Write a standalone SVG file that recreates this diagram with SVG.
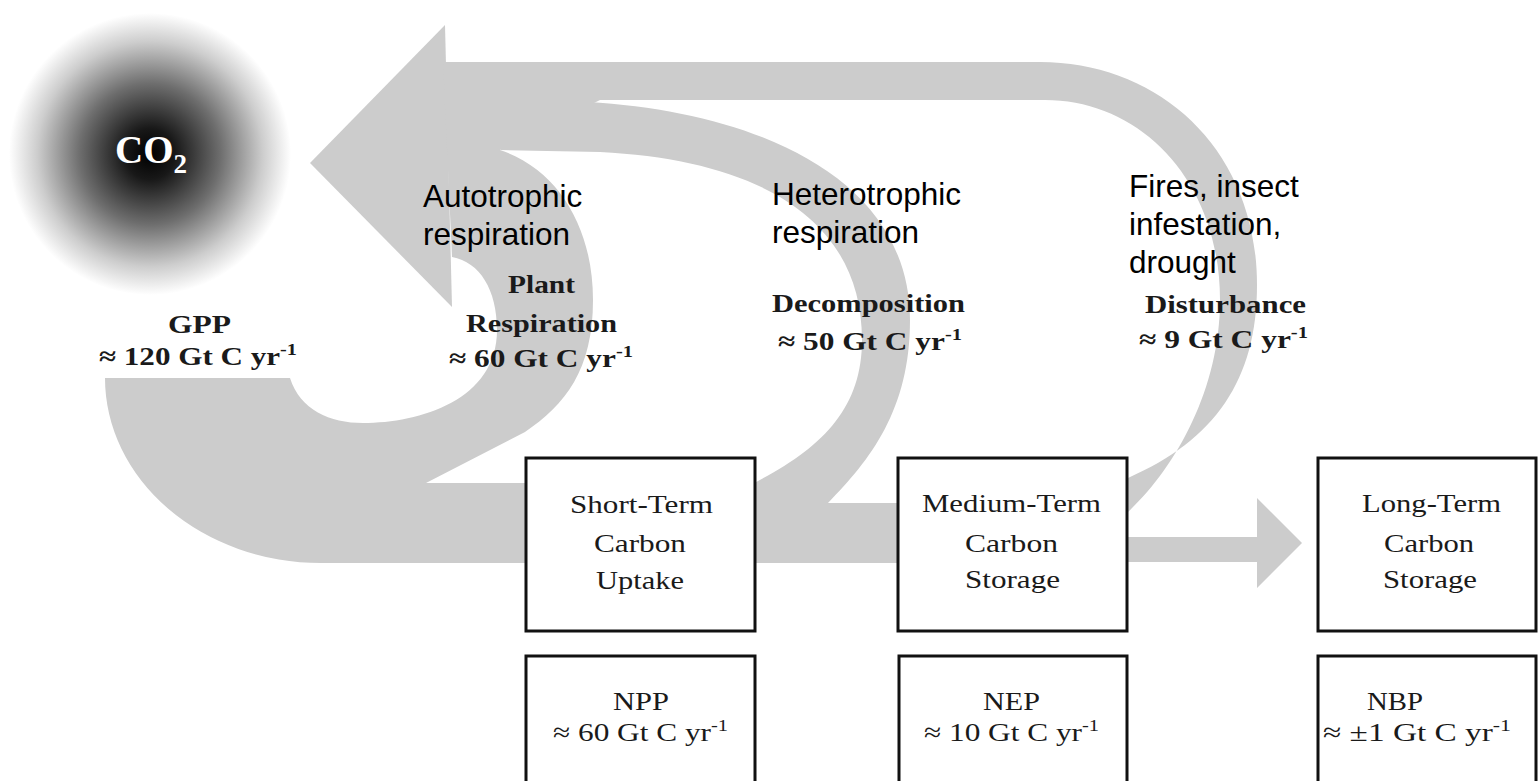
<svg xmlns="http://www.w3.org/2000/svg" width="1538" height="781" viewBox="0 0 1538 781">
<defs>
<radialGradient id="co2grad" cx="0.5" cy="0.5" r="0.5">
<stop offset="0" stop-color="#000000"/>
<stop offset="0.18" stop-color="#181818"/>
<stop offset="0.5" stop-color="#6e6e6e"/>
<stop offset="0.8" stop-color="#cdcdcd"/>
<stop offset="1" stop-color="#ffffff"/>
</radialGradient>
<style>
.flow{fill:#cccccc}
.box{fill:#ffffff;stroke:#111111;stroke-width:3}
.lbl{font-family:"Liberation Sans",Arial,sans-serif;font-size:31.5px;fill:#000000}
.bs{font-family:"Liberation Serif","Times New Roman",serif;font-weight:bold;font-size:26px;fill:#1a1a1a}
.rs{font-family:"Liberation Serif","Times New Roman",serif;font-size:26px;fill:#1a1a1a}
.co2{font-family:"Liberation Serif","Times New Roman",serif;font-weight:bold;font-size:39px;fill:#ffffff}
.sup{font-size:17px}
</style>
</defs>
<rect width="1538" height="781" fill="#ffffff"/>

<g id="connectors" class="flow">
<path id="arrowhead" d="M310,163 L445,25 L452,307 Z"/>
<path id="disturbance-flow" d="M443,62 L1040,62 C1160,62 1257,150 1257,285 C1257,380 1215,440 1128,478 L1128,512 C1175,468 1220,390 1220,300 C1220,180 1140,100 1045,100 L443,100 Z"/>
<path id="decomposition-flow" d="M560,100 L588,102 C760,112 910,180 910,320 C910,410 870,460 828,503 L900,503 L900,563 L750,563 L750,485 C820,450 862,410 862,340 C862,220 760,160 600,152 L500,150 Z"/>
<path id="gpp-plant-flow" d="M443,62 L600,62 L600,100 L500,150 C560,170 593,230 593,300 C593,370 565,405 525,432 L426,483 L530,483 L530,563 L321,563 A216 185 0 0 1 105,378 L290,378 C300,410 330,423 363,423 C420,423 497,400 497,330 C497,290 480,262 452,257 Z"/>
<path id="storage-flow" d="M1125,537 L1257,537 L1257,498 L1302,543 L1257,588 L1257,562 L1125,562 Z"/>
</g>

<g id="co2">
<circle cx="150" cy="154" r="141" fill="url(#co2grad)"/>
<text class="co2" x="115" y="163">CO<tspan font-size="27" dy="10">2</tspan></text>
</g>

<g id="label-gpp">
<text class="bs" x="168" y="333" textLength="63" lengthAdjust="spacingAndGlyphs">GPP</text>
<text class="bs" x="99" y="365" textLength="198" lengthAdjust="spacingAndGlyphs">≈ 120 Gt C yr<tspan class="sup" dy="-10">-1</tspan></text>
</g>

<g id="label-autotrophic">
<text class="lbl" x="423" y="207">Autotrophic</text>
<text class="lbl" x="423" y="245">respiration</text>
<text class="bs" x="508" y="293" textLength="67" lengthAdjust="spacingAndGlyphs">Plant</text>
<text class="bs" x="466" y="332" textLength="151" lengthAdjust="spacingAndGlyphs">Respiration</text>
<text class="bs" x="449" y="367" textLength="184" lengthAdjust="spacingAndGlyphs">≈ 60 Gt C yr<tspan class="sup" dy="-10">-1</tspan></text>
</g>

<g id="label-heterotrophic">
<text class="lbl" x="772" y="205">Heterotrophic</text>
<text class="lbl" x="772" y="243">respiration</text>
<text class="bs" x="772" y="312" textLength="193" lengthAdjust="spacingAndGlyphs">Decomposition</text>
<text class="bs" x="778" y="350" textLength="184" lengthAdjust="spacingAndGlyphs">≈ 50 Gt C yr<tspan class="sup" dy="-10">-1</tspan></text>
</g>

<g id="label-disturbance">
<text class="lbl" x="1129" y="197">Fires, insect</text>
<text class="lbl" x="1129" y="235">infestation,</text>
<text class="lbl" x="1129" y="273">drought</text>
<text class="bs" x="1145" y="313" textLength="161" lengthAdjust="spacingAndGlyphs">Disturbance</text>
<text class="bs" x="1139" y="348" textLength="169" lengthAdjust="spacingAndGlyphs">≈ 9 Gt C yr<tspan class="sup" dy="-10">-1</tspan></text>
</g>

<g id="short-term">
<rect class="box" x="526" y="458" width="229" height="173"/>
<text class="rs" x="570" y="513" textLength="143" lengthAdjust="spacingAndGlyphs">Short-Term</text>
<text class="rs" x="594" y="552" textLength="92" lengthAdjust="spacingAndGlyphs">Carbon</text>
<text class="rs" x="596" y="589" textLength="88" lengthAdjust="spacingAndGlyphs">Uptake</text>
</g>

<g id="medium-term">
<rect class="box" x="898" y="458" width="229" height="173"/>
<text class="rs" x="922" y="512" textLength="179" lengthAdjust="spacingAndGlyphs">Medium-Term</text>
<text class="rs" x="965" y="552" textLength="93" lengthAdjust="spacingAndGlyphs">Carbon</text>
<text class="rs" x="965" y="588" textLength="95" lengthAdjust="spacingAndGlyphs">Storage</text>
</g>

<g id="long-term">
<rect class="box" x="1318" y="458" width="218" height="173"/>
<text class="rs" x="1362" y="512" textLength="139" lengthAdjust="spacingAndGlyphs">Long-Term</text>
<text class="rs" x="1384" y="552" textLength="90" lengthAdjust="spacingAndGlyphs">Carbon</text>
<text class="rs" x="1383" y="588" textLength="94" lengthAdjust="spacingAndGlyphs">Storage</text>
</g>

<g id="npp">
<rect class="box" x="526" y="656" width="229" height="160"/>
<text class="rs" x="613" y="710" textLength="56" lengthAdjust="spacingAndGlyphs">NPP</text>
<text class="rs" x="553" y="741" textLength="175" lengthAdjust="spacingAndGlyphs">≈ 60 Gt C yr<tspan class="sup" dy="-10">-1</tspan></text>
</g>

<g id="nep">
<rect class="box" x="899" y="656" width="228" height="160"/>
<text class="rs" x="983" y="710" textLength="57" lengthAdjust="spacingAndGlyphs">NEP</text>
<text class="rs" x="924" y="741" textLength="175" lengthAdjust="spacingAndGlyphs">≈ 10 Gt C yr<tspan class="sup" dy="-10">-1</tspan></text>
</g>

<g id="nbp">
<rect class="box" x="1318" y="656" width="218" height="160"/>
<text class="rs" x="1367" y="710" textLength="56" lengthAdjust="spacingAndGlyphs">NBP</text>
<text class="rs" x="1323" y="741" textLength="188" lengthAdjust="spacingAndGlyphs">≈ ±1 Gt C yr<tspan class="sup" dy="-10">-1</tspan></text>
</g>
</svg>
